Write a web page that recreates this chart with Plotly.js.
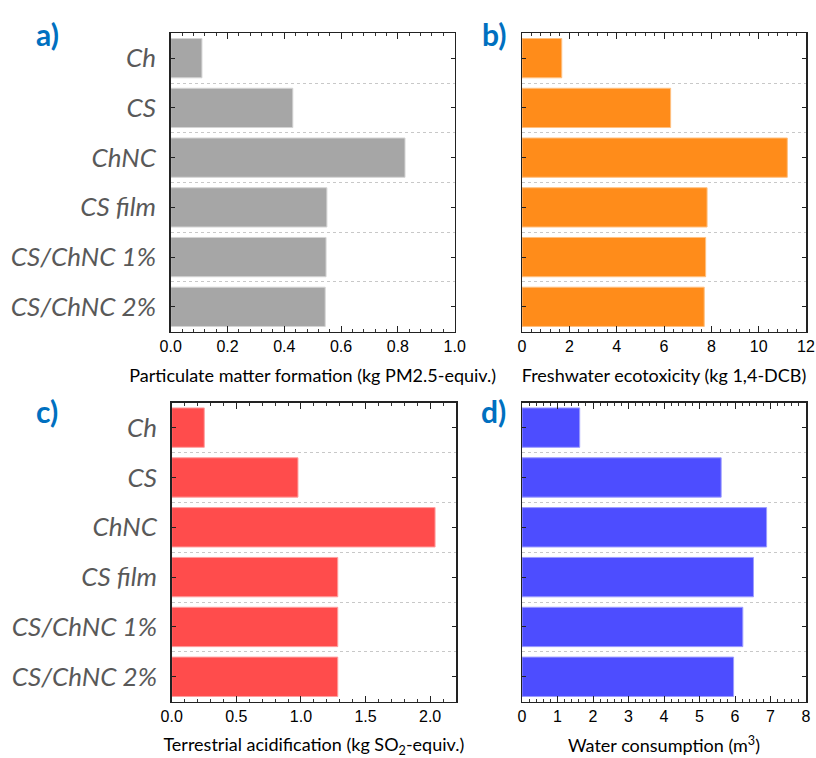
<!DOCTYPE html>
<html>
<head>
<meta charset="utf-8">
<script src="https://cdn.plot.ly/plotly-3.0.1.min.js"></script>
<style>
  html, body { margin: 0; padding: 0; background: #fff; }
  #chart { width: 816px; height: 758px; }
</style>
</head>
<body>
<div id="chart"></div>
<script>
// Samples, top to bottom
const samples = ["Ch", "CS", "ChNC", "CS film", "CS/ChNC 1%", "CS/ChNC 2%"];

// Impact values per sample
const particulateMatter = [0.11, 0.43, 0.825, 0.55, 0.547, 0.544];   // kg PM2.5-equiv.
const freshwaterEcotox = [1.68, 6.28, 11.21, 7.82, 7.76, 7.70];     // kg 1,4-DCB
const terrestrialAcid = [0.252, 0.977, 2.038, 1.285, 1.285, 1.285]; // kg SO2-equiv.
const waterConsumption = [1.625, 5.61, 6.89, 6.52, 6.22, 5.96];     // m3

// Axis titles and panel tags
const xTitles = [
  "Particulate matter formation (kg PM2.5-equiv.)",
  "Freshwater ecotoxicity (kg 1,4-DCB)",
  "Terrestrial acidification (kg SO<sub>2</sub>-equiv.)",
  "Water consumption (m<sup>3</sup>)"
];
const panelTags = ["a)", "b)", "c)", "d)"];

const W = 816, H = 758;
const pos = samples.map((_, i) => i);
const bounds = samples.slice(1).map((_, i) => i + 0.5);

const panels = [
  { vals: particulateMatter, fill: "#A6A6A6", edge: "#D4D4D4", range: [0, 1.0], dtick: 0.2, minor: 0.04, fmt: ".1f",
    box: [170.7, 454.7, 33.3, 331.7], tag: [47, 34] },
  { vals: freshwaterEcotox, fill: "#FF8C1A", edge: "#FFC080", range: [0, 12], dtick: 2, minor: 0.4, fmt: "d",
    box: [522, 806, 33.3, 331.7], tag: [494, 34] },
  { vals: terrestrialAcid, fill: "#FF4C4C", edge: "#FF9F9F", range: [0, 2.2], dtick: 0.5, minor: 0.1, fmt: ".1f",
    box: [171.7, 456, 402.7, 701.7], tag: [47, 411] },
  { vals: waterConsumption, fill: "#4D4DFF", edge: "#9C9CFF", range: [0, 8], dtick: 1, minor: 0.2, fmt: "d",
    box: [522, 806, 402.7, 701.7], tag: [494, 411] }
];

const data = [];
const layout = {
  width: W, height: H,
  margin: { l: 0, r: 0, t: 0, b: 0 },
  paper_bgcolor: "#fff",
  plot_bgcolor: "#fff",
  showlegend: false,
  annotations: []
};

panels.forEach((p, k) => {
  const n = k + 1;
  const xa = "x" + (n === 1 ? "" : n);
  const ya = "y" + (n === 1 ? "" : n);
  data.push({
    type: "bar",
    orientation: "h",
    x: p.vals,
    y: pos,
    xaxis: xa, yaxis: ya,
    width: 0.79,
    marker: { color: p.fill, line: { color: p.edge, width: 1 } },
    hoverinfo: "x"
  });

  const [x0, x1, yTop, yBot] = p.box;
  layout["xaxis" + (n === 1 ? "" : n)] = {
    anchor: ya,
    domain: [x0 / W, x1 / W],
    range: p.range,
    dtick: p.dtick, tick0: 0,
    tickformat: p.fmt,
    ticks: "inside", ticklen: 6, tickwidth: 1, tickcolor: "#222",
    minor: { dtick: p.minor, tick0: 0, ticks: "inside", ticklen: 3, tickwidth: 1, tickcolor: "#333", showgrid: false },
    showline: true, linecolor: "#222", linewidth: 1.5, mirror: "ticks",
    showgrid: false, zeroline: false,
    tickfont: { family: "Liberation Sans, Arial, sans-serif", size: 16, color: "#000" },
    title: { text: xTitles[k], standoff: 15,
             font: { family: "Lato, sans-serif", size: 18, color: "#000" } },
    fixedrange: true
  };
  layout["yaxis" + (n === 1 ? "" : n)] = {
    anchor: xa,
    domain: [1 - yBot / H, 1 - yTop / H],
    range: [samples.length - 0.5, -0.5],
    tickmode: "array",
    tickvals: pos,
    ticktext: samples,
    showticklabels: k % 2 === 0,
    ticks: "inside", ticklen: 4, tickwidth: 1, tickcolor: "#222",
    ticklabelstandoff: 8,
    minor: { tickmode: "array", tickvals: bounds, ticks: "", showgrid: true,
             gridcolor: "#C8C8C8", gridwidth: 1, griddash: "dot" },
    showline: true, linecolor: "#222", linewidth: 1.5, mirror: "ticks",
    showgrid: false, zeroline: false,
    tickfont: { family: "Lato, sans-serif", size: 26, color: "#595959", style: "italic" },
    fixedrange: true
  };

  layout.annotations.push({
    xref: "paper", yref: "paper",
    x: p.tag[0] / W, y: 1 - p.tag[1] / H,
    xanchor: "center", yanchor: "middle",
    text: "<b>" + panelTags[k] + "</b>",
    showarrow: false,
    font: { family: "Lato, sans-serif", size: 30, color: "#0070C0" }
  });
});

Plotly.newPlot("chart", data, layout, { displayModeBar: false, staticPlot: true });
</script>
</body>
</html>
